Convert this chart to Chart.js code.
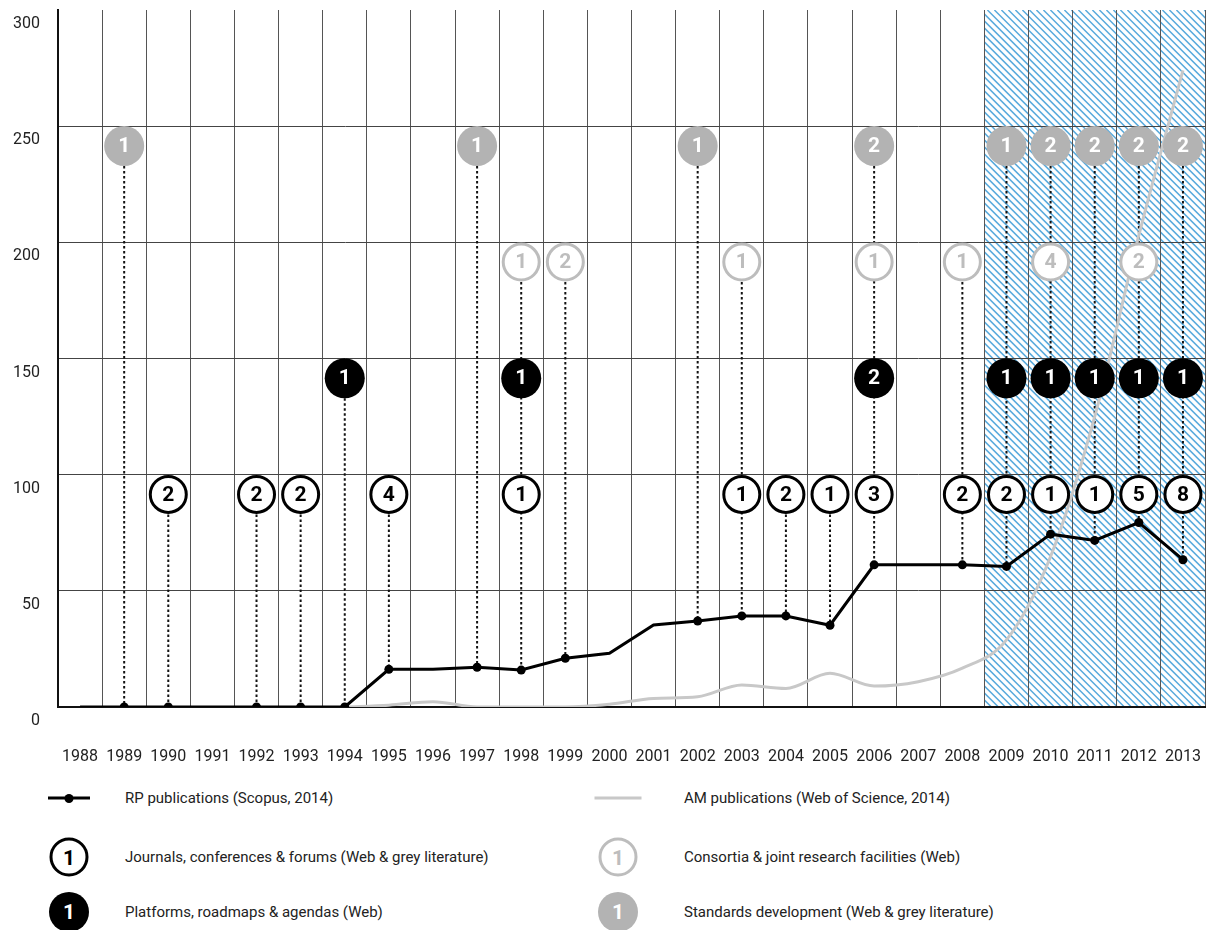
<!DOCTYPE html>
<html>
<head>
<meta charset="utf-8">
<script src="https://cdn.jsdelivr.net/npm/chart.js@4.4.1/dist/chart.umd.min.js"></script>
<style>
  body { margin: 0; background: #fff; font-family: Roboto, sans-serif; color: #222; overflow: hidden; }
  #wrap { position: relative; width: 1226px; height: 930px; overflow: hidden; }
  #chartBox { position: absolute; left: 0; top: -11px; width: 1226px; height: 776px; }
  .sym { position: absolute; transform: translate(-50%, -50%); }
  .txt { position: absolute; font-size: 15px; transform: translateY(-50%); white-space: nowrap; }
  .badge { box-sizing: border-box; border-radius: 50%; display: flex; align-items: center; justify-content: center;
           font-weight: 700; font-size: 21px; }
  .ring { width: 39px; height: 39px; border: 3px solid #000; background: #fff; color: #000; }
  .ring.grey { border-color: #bdbdbd; color: #bdbdbd; }
  .disc { width: 40px; height: 40px; background: #000; color: #fff; }
  .disc.grey { background: #b3b3b3; }
  .lineSym { height: 3px; }
  .lineSym .dot { position: absolute; left: 50%; top: 50%; width: 9px; height: 9px; border-radius: 50%;
                  background: #000; transform: translate(-50%, -50%); }
</style>
</head>
<body>
<div id="wrap">
  <div id="chartBox"><canvas id="timeline"></canvas></div>

  <div class="sym lineSym" style="left:69px; top:798px; width:42px; background:#000;"><span class="dot"></span></div>
  <span class="txt" style="left:125px; top:798px;">RP publications (Scopus, 2014)</span>
  <div class="sym lineSym" style="left:618px; top:798px; width:47px; background:#c8c8c8;"></div>
  <span class="txt" style="left:684px; top:798px;">AM publications (Web of Science, 2014)</span>

  <div class="sym badge ring" style="left:69px; top:857px;">1</div>
  <span class="txt" style="left:125px; top:857px;">Journals, conferences &amp; forums (Web &amp; grey literature)</span>
  <div class="sym badge ring grey" style="left:618px; top:857px;">1</div>
  <span class="txt" style="left:684px; top:857px;">Consortia &amp; joint research facilities (Web)</span>

  <div class="sym badge disc" style="left:69px; top:912px;">1</div>
  <span class="txt" style="left:125px; top:912px;">Platforms, roadmaps &amp; agendas (Web)</span>
  <div class="sym badge disc grey" style="left:618px; top:912px;">1</div>
  <span class="txt" style="left:684px; top:912px;">Standards development (Web &amp; grey literature)</span>
</div>

<script>
const years = ['1988', '1989', '1990', '1991', '1992', '1993', '1994', '1995', '1996', '1997', '1998', '1999', '2000',
               '2001', '2002', '2003', '2004', '2005', '2006', '2007', '2008', '2009', '2010', '2011', '2012', '2013'];

const rpPublications = [0, 0, 0, 0, 0, 0, 0, 16.2, 16.2, 17.1, 15.9, 21, 23.1,
                        35.3, 37, 39.2, 39.2, 35.2, 61.2, 61.2, 61.2, 60.5, 74.4, 71.7, 79.4, 63.4];
const amPublications = [null, null, null, null, null, null, 0, 0.8, 2.3, 0, 0, 0, 1.2,
                        3.7, 4.4, 9.5, 8, 14.5, 9, 10.9, 16.7, 28.9, 64.8, 125, 203, 274];

// counts shown in the circles, per year
const journals  = [null, null, 2, null, 2, 2, null, 4, null, null, 1, null, null,
                   null, null, 1, 2, 1, 3, null, 2, 2, 1, 1, 5, 8];
const platforms = [null, null, null, null, null, null, 1, null, null, null, 1, null, null,
                   null, null, null, null, null, 2, null, null, 1, 1, 1, 1, 1];
const consortia = [null, null, null, null, null, null, null, null, null, null, 1, 2, null,
                   null, null, 1, null, null, 1, null, 1, null, 4, null, 2, null];
const standards = [null, 1, null, null, null, null, null, null, null, 1, null, null, null,
                   null, 1, null, null, null, 2, null, null, 1, 2, 2, 2, 2];

const hatchFrom = '2009';

const rows = [
  { counts: journals,  level: 91.5,  radius: 18, border: 3, fill: '#fff',    stroke: '#000',    text: '#000' },
  { counts: platforms, level: 141.5, radius: 20, border: 0, fill: '#000',    stroke: '#000',    text: '#fff' },
  { counts: consortia, level: 191.5, radius: 18, border: 3, fill: '#fff',    stroke: '#bdbdbd', text: '#bdbdbd' },
  { counts: standards, level: 241.5, radius: 20, border: 0, fill: '#b3b3b3', stroke: '#b3b3b3', text: '#fff' }
];

const hasMarker = years.map((_, i) => rows.some(r => r.counts[i] != null));

const FONT = 'Roboto, sans-serif';

const hatchPlugin = {
  id: 'hatch',
  beforeDraw(chart) {
    const { ctx, chartArea: a, scales: { x } } = chart;
    const i = years.indexOf(hatchFrom);
    const x0 = (x.getPixelForValue(i - 1) + x.getPixelForValue(i)) / 2;
    ctx.save();
    ctx.beginPath();
    ctx.rect(x0, a.top, a.right - x0, a.bottom - a.top);
    ctx.clip();
    ctx.strokeStyle = '#5aabdd';
    ctx.lineWidth = 1.5;
    const h = a.bottom - a.top;
    ctx.beginPath();
    for (let k = x0 - h; k < a.right; k += 7) {
      ctx.moveTo(k, a.top);
      ctx.lineTo(k + h, a.bottom);
    }
    ctx.stroke();
    ctx.restore();
  }
};

const stemsPlugin = {
  id: 'stems',
  beforeDatasetsDraw(chart) {
    const { ctx, scales: { x, y } } = chart;
    ctx.save();
    ctx.strokeStyle = '#111';
    ctx.lineWidth = 2;
    ctx.setLineDash([2.5, 2.5]);
    years.forEach((_, i) => {
      if (!hasMarker[i]) return;
      const top = Math.max(...rows.filter(r => r.counts[i] != null).map(r => r.level));
      const px = x.getPixelForValue(i);
      ctx.beginPath();
      ctx.moveTo(px, y.getPixelForValue(top));
      ctx.lineTo(px, y.getPixelForValue(rpPublications[i]));
      ctx.stroke();
    });
    ctx.restore();
  },
  afterDatasetsDraw(chart) {
    const { ctx } = chart;
    ctx.save();
    ctx.font = 'bold 21px ' + FONT;
    ctx.textAlign = 'center';
    ctx.textBaseline = 'middle';
    rows.forEach((r, ri) => {
      const meta = chart.getDatasetMeta(2 + ri);
      meta.data.forEach((pt, i) => {
        if (r.counts[i] == null) return;
        ctx.fillStyle = r.text;
        ctx.fillText(String(r.counts[i]), pt.x, pt.y + 1);
      });
    });
    ctx.restore();
  }
};

const datasets = [
  {
    label: 'RP publications (Scopus, 2014)',
    data: rpPublications,
    borderColor: '#000',
    borderWidth: 3,
    pointRadius: hasMarker.map(m => m ? 4.5 : 0),
    pointBackgroundColor: '#000',
    pointBorderWidth: 0,
    tension: 0,
    order: 1
  },
  {
    label: 'AM publications (Web of Science, 2014)',
    data: amPublications,
    borderColor: '#c8c8c8',
    borderWidth: 3,
    pointRadius: 0,
    cubicInterpolationMode: 'monotone',
    order: 2
  }
].concat(rows.map(r => ({
  data: r.counts.map(c => c == null ? null : r.level),
  showLine: false,
  pointRadius: r.radius,
  pointBorderWidth: r.border,
  pointBackgroundColor: r.fill,
  pointBorderColor: r.stroke,
  order: 0
})));

new Chart(document.getElementById('timeline'), {
  type: 'line',
  data: { labels: years, datasets: datasets },
  options: {
    responsive: true,
    maintainAspectRatio: false,
    animation: false,
    events: [],
    layout: { padding: { top: 0, right: 5, left: 0, bottom: 0 } },
    plugins: { legend: { display: false }, tooltip: { enabled: false } },
    scales: {
      x: {
        offset: true,
        afterFit(scale) { scale.height = 58; scale.paddingLeft = 0; scale.paddingRight = 0; },
        grid: { offset: true, color: '#555', lineWidth: 1, drawTicks: false },
        border: { color: '#111', width: 2 },
        ticks: { padding: 40, color: '#222', font: { family: FONT, size: 16 }, maxRotation: 0, autoSkip: false }
      },
      y: {
        min: 0,
        max: 300,
        afterFit(scale) { scale.width = 58; scale.paddingTop = 9; scale.paddingBottom = 0; },
        grid: {
          drawTicks: false,
          color: ctx => (ctx.tick && ctx.tick.value === 300) ? 'rgba(0,0,0,0)' : '#444'
        },
        border: { color: '#111', width: 2 },
        ticks: { stepSize: 50, padding: 18, labelOffset: 14, color: '#222', font: { family: FONT, size: 16 } }
      }
    }
  },
  plugins: [hatchPlugin, stemsPlugin]
});
</script>
</body>
</html>
